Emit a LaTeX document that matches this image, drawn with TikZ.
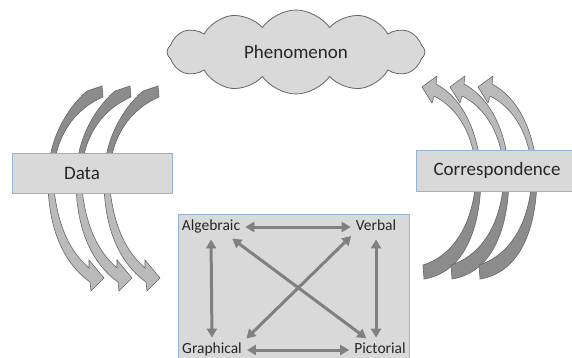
\documentclass[tikz,border=0pt]{standalone}
\usepackage{fontspec}
\setmainfont{Carlito}
\usetikzlibrary{shapes.symbols,arrows.meta}
\definecolor{boxfill}{HTML}{D9D9D9}
\definecolor{boxline}{HTML}{95B3D7}
\definecolor{arrowgray}{HTML}{808080}
\definecolor{backgray}{HTML}{8C8C8C}
\definecolor{frontgray}{HTML}{BABABA}
\definecolor{edgegray}{HTML}{666666}
\definecolor{labeltext}{HTML}{262626}

\begin{document}
\begin{tikzpicture}[x=1pt, y=-1pt,
  boxtext/.style = {font=\fontsize{19}{22}\selectfont, text=labeltext},
  labelbox/.style = {draw=boxline, fill=boxfill, line width=0.8pt, minimum height=40pt, inner sep=0pt, boxtext},
  kind/.style = {font=\fontsize{15.5}{18}\selectfont, text=labeltext, inner sep=3pt, text height=11pt, text depth=3.5pt},
  link/.style = {draw=arrowgray, line width=3pt, {Triangle[length=9pt,width=10pt]}-{Triangle[length=9pt,width=10pt]}, shorten <=2pt, shorten >=2pt},
  back/.style = {fill=backgray, draw=edgegray, line width=0.6pt},
  front/.style = {fill=frontgray, draw=edgegray, line width=0.6pt}]
\useasboundingbox (0,0) rectangle (572,358);

% curved arrows on the left: phenomenon to data to representations
\foreach \dx in {0,28,56} {
  \begin{scope}[xshift=\dx pt]
    \draw[back] (102,86) -- (87,91) .. controls (65,110) and (50,140) .. (48,172) -- (54,172) .. controls (55,138) and (73,110) .. (103,97) -- cycle;
    \draw[front] (48,175) .. controls (47,225) and (62,262) .. (90,282) -- (91,291) -- (104,278) -- (89,260) -- (89,268) .. controls (68,250) and (55,220) .. (53,175) -- cycle;
  \end{scope}
}

% curved arrows on the right: representations to correspondence to phenomenon
\foreach \dx in {0,28,56} {
  \begin{scope}[xshift=\dx pt]
    \draw[back] (476,170) .. controls (476,220) and (455,255) .. (423,265) -- (424,279) .. controls (462,273) and (482,232) .. (481,170) -- cycle;
    \draw[front] (437,76) -- (422,87) -- (432,103) -- (434,96) .. controls (458,108) and (474,135) .. (476,172) -- (481,172) .. controls (478,130) and (462,98) .. (436,84) -- cycle;
  \end{scope}
}

\node[cloud, cloud puffs=12, cloud puff arc=110, cloud ignores aspect, minimum width=258pt, minimum height=84pt, draw=edgegray, fill=boxfill, line width=0.8pt, boxtext] (phen) at (296,52) {Phenomenon};
\node[labelbox, minimum width=160pt, label={[boxtext, xshift=-10pt]center:Data}] (data) at (92,173) {};
\node[labelbox, minimum width=162pt, minimum height=41pt] (corr) at (497,170.5) {Correspondence};

% representations
\node[draw=boxline, fill=boxfill, line width=0.8pt, minimum width=231pt, minimum height=148pt, anchor=north west] (rep) at (178,214) {};
\node[kind] (alg) at (211,227) {Algebraic};
\node[kind] (verb) at (376,227) {Verbal};
\node[kind] (graph) at (212,350) {Graphical};
\node[kind] (pict) at (380,350) {Pictorial};

\draw[link] (alg) -- (verb);
\draw[link] (graph) -- (pict);
\draw[link] (alg.south) -- (graph.north);
\draw[link] (verb.south) -- (verb.south |- pict.north);
\draw[link] (alg.-28) -- (pict.139);
\draw[link] (graph.17) -- (verb.198);
\end{tikzpicture}
\end{document}
